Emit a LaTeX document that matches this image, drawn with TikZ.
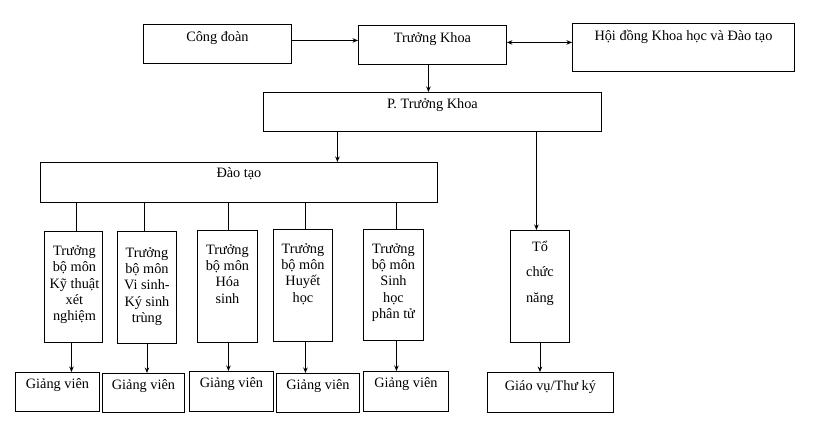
\documentclass[tikz,border=0pt]{standalone}
\usepackage{fontspec}
\setmainfont{Liberation Serif}
\usetikzlibrary{arrows.meta}
\begin{document}
\begin{tikzpicture}[x=1pt,y=-1pt,
  box/.style={draw, line width=0.9pt, inner sep=0pt, anchor=north west},
  txt/.style={font=\fontsize{14.3}{16.5}\selectfont, inner sep=0pt, anchor=base},
  mtxt/.style={font=\fontsize{14.3}{16.4}\selectfont, inner sep=0pt, align=center, anchor=north},
  arr/.style={line width=0.9pt, -{Stealth[length=5.5pt,width=4.5pt]}},
  darr/.style={line width=0.9pt, {Stealth[length=5.5pt,width=4.5pt]}-{Stealth[length=5.5pt,width=4.5pt]}},
  ln/.style={line width=0.9pt}]
\path[use as bounding box] (0,0) rectangle (816,435);

% boxes
\node[box, minimum width=148pt, minimum height=39pt] (cd) at (143,24) {};
\node[box, minimum width=148pt, minimum height=39pt] (tk) at (358,25) {};
\node[box, minimum width=222pt, minimum height=48pt] (hd) at (572,23) {};
\node[box, minimum width=338pt, minimum height=39pt] (ptk) at (263,92) {};
\node[box, minimum width=397pt, minimum height=40pt] (dt) at (40,162) {};
\node[box, minimum width=58pt, minimum height=111pt] (s1) at (44,231) {};
\node[box, minimum width=59pt, minimum height=112pt] (s2) at (117,231) {};
\node[box, minimum width=60pt, minimum height=112pt] (s3) at (197,230) {};
\node[box, minimum width=59pt, minimum height=112pt] (s4) at (273,229) {};
\node[box, minimum width=60pt, minimum height=111pt] (s5) at (363,229) {};
\node[box, minimum width=59pt, minimum height=112pt] (tc) at (510,230) {};
\node[box, minimum width=84pt, minimum height=39pt] (g1) at (15,372) {};
\node[box, minimum width=82pt, minimum height=39pt] (g2) at (102,373) {};
\node[box, minimum width=84pt, minimum height=40pt] (g3) at (189,371) {};
\node[box, minimum width=83pt, minimum height=39pt] (g4) at (276,373) {};
\node[box, minimum width=85pt, minimum height=40pt] (g5) at (363,371) {};
\node[box, minimum width=126pt, minimum height=40pt] (g6) at (487,372) {};

% texts
\node[txt] (tcd) at ([yshift=-18pt]cd.north) {Công đoàn};
\node[txt] (ttk) at ([yshift=-18pt]tk.north) {Trưởng Khoa};
\node[txt] (thd) at ([yshift=-18pt]hd.north) {Hội đồng Khoa học và Đào tạo};
\node[txt] (tptk) at ([yshift=-17pt]ptk.north) {P. Trưởng Khoa};
\node[txt] (tdt) at ([yshift=-16pt]dt.north) {Đào tạo};
\node[mtxt] (ts1) at ([xshift=1pt,yshift=-10pt]s1.north) {\rule{0pt}{14pt}Trưởng\\bộ môn\\Kỹ thuật\\xét\\nghiệm};
\node[mtxt] (ts2) at ([yshift=-12pt]s2.north) {\rule{0pt}{14pt}Trưởng\\bộ môn\\Vi sinh-\\Ký sinh\\trùng};
\node[mtxt] (ts3) at ([yshift=-10pt]s3.north) {\rule{0pt}{14pt}Trưởng\\bộ môn\\Hóa\\sinh};
\node[mtxt] (ts4) at ([yshift=-10pt]s4.north) {\rule{0pt}{14pt}Trưởng\\bộ môn\\Huyết\\học};
\node[mtxt] (ts5) at ([yshift=-10pt]s5.north) {\rule{0pt}{14pt}Trưởng\\bộ môn\\Sinh\\học\\phân tử};
\node[mtxt, font=\fontsize{14.3}{25.5}\selectfont] (ttc) at ([yshift=-7pt]tc.north) {\rule{0pt}{14pt}Tổ\\chức\\năng};
\node[txt] (tg1) at ([yshift=-16pt]g1.north) {Giảng viên};
\node[txt] (tg2) at ([yshift=-16pt]g2.north) {Giảng viên};
\node[txt] (tg3) at ([yshift=-16pt]g3.north) {Giảng viên};
\node[txt] (tg4) at ([yshift=-16pt]g4.north) {Giảng viên};
\node[txt] (tg5) at ([yshift=-16pt]g5.north) {Giảng viên};
\node[txt] (tg6) at ([yshift=-18pt]g6.north) {Giáo vụ/Thư ký};

% connectors
\draw[arr] ([yshift=3.5pt]cd.east) -- ([yshift=3.5pt]cd.east -| tk.west);
\draw[darr] ([yshift=2.5pt]tk.east) -- ([yshift=2.5pt]tk.east -| hd.west);
\draw[arr] ([xshift=-4pt]tk.south) -- ([xshift=-4pt]tk.south |- ptk.north);
\draw[arr] ([xshift=-95pt]ptk.south) -- ([xshift=-95pt]ptk.south |- dt.north);
\draw[arr] ([xshift=104pt]ptk.south) -- ([xshift=104pt]ptk.south |- tc.north);
\draw[ln] ([xshift=3pt]s1.north) -- ([xshift=3pt]s1.north |- dt.south);
\draw[ln] ([xshift=-2.5pt]s2.north) -- ([xshift=-2.5pt]s2.north |- dt.south);
\draw[ln] ([xshift=1pt]s3.north) -- ([xshift=1pt]s3.north |- dt.south);
\draw[ln] ([xshift=2.5pt]s4.north) -- ([xshift=2.5pt]s4.north |- dt.south);
\draw[ln] ([xshift=3pt]s5.north) -- ([xshift=3pt]s5.north |- dt.south);
\draw[arr] ([xshift=-2pt]s1.south) -- ([xshift=-2pt]s1.south |- g1.north);
\draw[arr] (s2.south) -- (s2.south |- g2.north);
\draw[arr] ([xshift=1pt]s3.south) -- ([xshift=1pt]s3.south |- g3.north);
\draw[arr] ([xshift=2.5pt]s4.south) -- ([xshift=2.5pt]s4.south |- g4.north);
\draw[arr] ([xshift=3pt]s5.south) -- ([xshift=3pt]s5.south |- g5.north);
\draw[arr] (tc.south) -- (tc.south |- g6.north);
\end{tikzpicture}
\end{document}
